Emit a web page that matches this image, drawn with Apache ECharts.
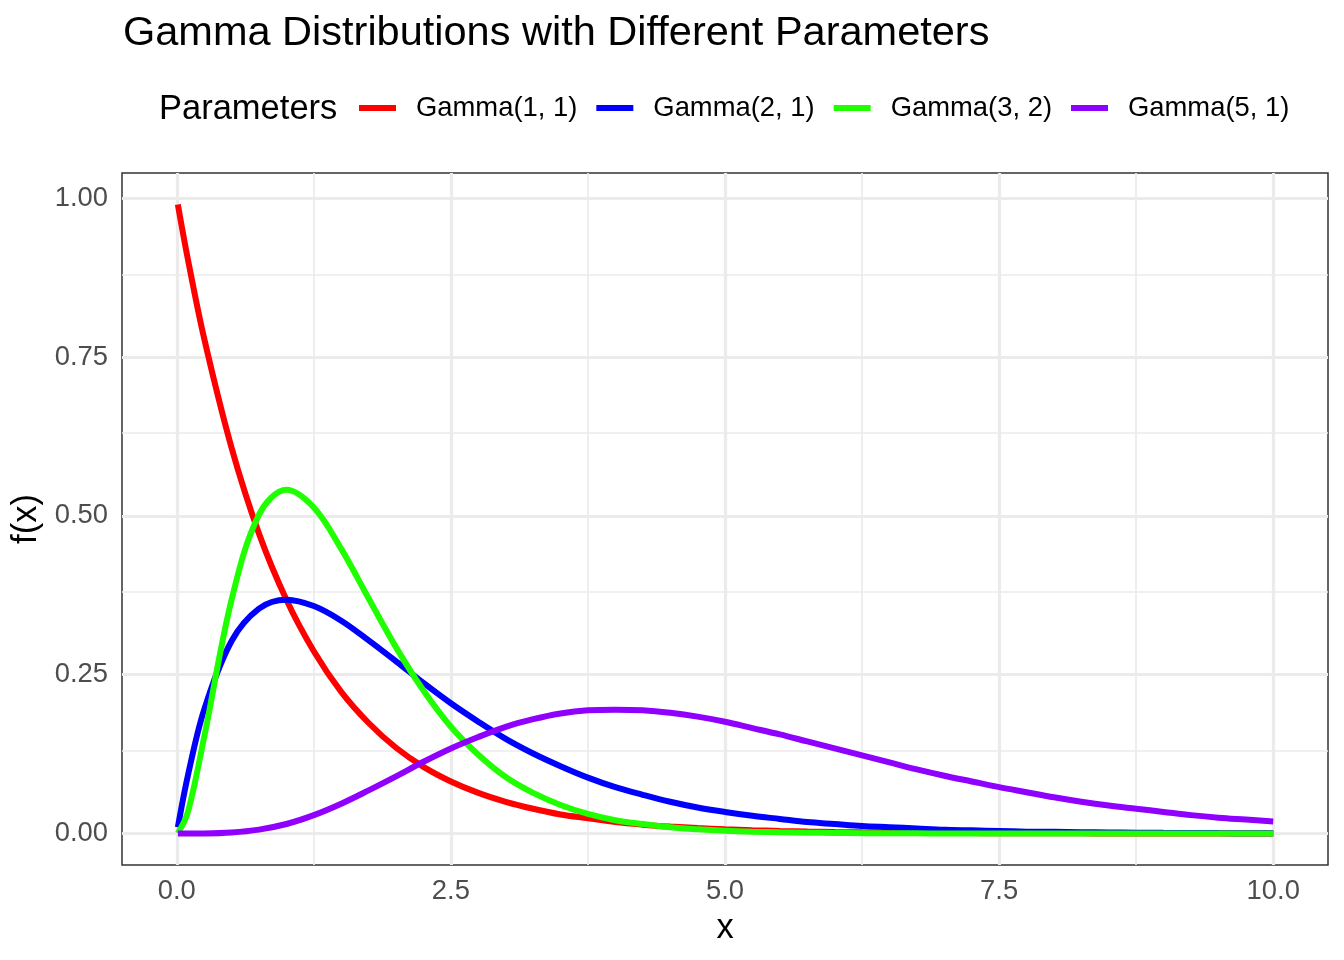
<!DOCTYPE html>
<html>
<head>
    <meta charset="utf-8">
    <title>Gamma Distributions</title>
    <script src="https://cdn.jsdelivr.net/npm/echarts@6.0.0/dist/echarts.min.js"></script>
    <style>
        body { margin: 0; background: #fff; }
    </style>
</head>
<body>
<div id="main" style="width: 1344px;height:960px;"></div>
<script type="text/javascript">
    // values
    var xs = [0.01, 0.1, 0.25, 0.5, 0.75, 1, 1.25, 1.5, 1.75, 2, 2.25, 2.5, 2.75, 3, 3.25, 3.5, 3.75, 4,
        4.25, 4.5, 4.75, 5, 5.25, 5.5, 5.75, 6, 6.25, 6.5, 6.75, 7, 7.25, 7.5, 7.75, 8,
        8.25, 8.5, 8.75, 9, 9.25, 9.5, 9.75, 10];

    var gamma11 = [0.990, 0.905, 0.779, 0.607, 0.472, 0.368, 0.287, 0.223, 0.174, 0.135, 0.105, 0.082, 0.064, 0.050, 0.039, 0.030, 0.024, 0.018,
        0.014, 0.011, 0.0087, 0.0067, 0.0052, 0.0041, 0.0032, 0.0025, 0.0019, 0.0015, 0.0012, 0.0009, 0.0007, 0.0006, 0.0004, 0.0003,
        0.0003, 0.0002, 0.0002, 0.0001, 0.0001, 0.0001, 0.0001, 0.0000];
    var gamma21 = [0.010, 0.090, 0.195, 0.303, 0.354, 0.368, 0.358, 0.335, 0.304, 0.271, 0.237, 0.205, 0.176, 0.149, 0.126, 0.106, 0.088, 0.073,
        0.061, 0.050, 0.041, 0.034, 0.028, 0.023, 0.018, 0.015, 0.012, 0.010, 0.008, 0.006, 0.005, 0.004, 0.003, 0.0027,
        0.0022, 0.0017, 0.0014, 0.0011, 0.0009, 0.0007, 0.0006, 0.0005];
    var gamma32 = [0.0004, 0.033, 0.152, 0.368, 0.502, 0.541, 0.513, 0.448, 0.370, 0.293, 0.225, 0.168, 0.124, 0.089, 0.064, 0.045, 0.031, 0.021,
        0.015, 0.010, 0.0068, 0.0045, 0.0030, 0.0020, 0.0013, 0.0009, 0.0006, 0.0004, 0.0003, 0.0002, 0.0001, 0.0001, 0.0000, 0.0000,
        0.0000, 0.0000, 0.0000, 0.0000, 0.0000, 0.0000, 0.0000, 0.0000];
    var gamma51 = [0.0000, 0.0000, 0.0001, 0.0016, 0.0062, 0.015, 0.029, 0.047, 0.068, 0.090, 0.113, 0.134, 0.152, 0.168, 0.180, 0.189, 0.194, 0.195,
        0.194, 0.190, 0.184, 0.176, 0.166, 0.156, 0.145, 0.134, 0.123, 0.112, 0.101, 0.091, 0.082, 0.073, 0.065, 0.057,
        0.050, 0.044, 0.039, 0.034, 0.029, 0.025, 0.022, 0.019];

    var seriesNames = ['Gamma(1, 1)', 'Gamma(2, 1)', 'Gamma(3, 2)', 'Gamma(5, 1)'];
    var seriesColors = ['#FF0000', '#0000FF', '#1FFF00', '#8F00FF'];

    var xMajor = [0, 2.5, 5, 7.5, 10];
    var xMinor = [1.25, 3.75, 6.25, 8.75];
    var yMajor = [0, 0.25, 0.5, 0.75, 1];
    var yMinor = [0.125, 0.375, 0.625, 0.875];

    var font = '"Liberation Sans", Arial, Helvetica, sans-serif';

    var myChart = echarts.init(document.getElementById('main'));

    // grid lines drawn as mark lines so they sit on the real breaks
    var gridLines = [];
    xMinor.forEach(function (v) {
        gridLines.push({ xAxis: v, lineStyle: { color: '#EBEBEB', width: 1.7, type: 'solid' } });
    });
    yMinor.forEach(function (v) {
        gridLines.push({ yAxis: v, lineStyle: { color: '#EBEBEB', width: 1.7, type: 'solid' } });
    });
    xMajor.forEach(function (v) {
        gridLines.push({ xAxis: v, lineStyle: { color: '#EBEBEB', width: 3.2, type: 'solid' } });
    });
    yMajor.forEach(function (v) {
        gridLines.push({ yAxis: v, lineStyle: { color: '#EBEBEB', width: 3.2, type: 'solid' } });
    });

    var allData = [gamma11, gamma21, gamma32, gamma51];
    var series = [{
        name: 'grid',
        type: 'line',
        data: [],
        z: 1,
        silent: true,
        markLine: {
            silent: true,
            z: 1,
            symbol: ['none', 'none'],
            label: { show: false },
            animation: false,
            data: gridLines
        }
    }];
    allData.forEach(function (arr, k) {
        series.push({
            name: seriesNames[k],
            type: 'line',
            z: 3 + k,
            showSymbol: false,
            smooth: 0.35,
            color: seriesColors[k],
            lineStyle: { width: 6, color: seriesColors[k], cap: 'butt' },
            data: xs.map(function (x, i) { return [x, arr[i]]; })
        });
    });

    var option = {
        animation: false,
        backgroundColor: '#FFFFFF',
        title: [{
            text: 'Gamma Distributions with Different Parameters',
            left: 118,
            top: 7,
            textStyle: { fontFamily: font, fontSize: 41.5, fontWeight: 'normal', color: '#000', lineHeight: 44 }
        }, {
            text: 'Parameters',
            left: 154,
            top: 86,
            textStyle: { fontFamily: font, fontSize: 34.5, fontWeight: 'normal', color: '#000', lineHeight: 36 }
        }],
        legend: {
            data: seriesNames,
            left: 354,
            top: 88,
            icon: 'rect',
            itemWidth: 37,
            itemHeight: 6,
            itemGap: 19,
            textStyle: { fontFamily: font, fontSize: 27.4, color: '#000', padding: [0, 0, 0, 15], lineHeight: 30 }
        },
        grid: {
            left: 122,
            right: 16,
            top: 173,
            bottom: 95,
            show: true,
            borderColor: '#333333',
            borderWidth: 1.5,
            backgroundColor: 'transparent'
        },
        xAxis: {
            type: 'value',
            min: -0.4995,
            max: 10.4995,
            name: 'x',
            nameLocation: 'middle',
            nameGap: 46,
            nameTextStyle: { fontFamily: font, fontSize: 34.5, color: '#000' },
            axisLine: { show: false },
            splitLine: { show: false },
            axisTick: { show: true, customValues: xMajor, length: 8, lineStyle: { color: '#333333', width: 1.6 } },
            axisLabel: {
                customValues: xMajor,
                margin: 13,
                fontFamily: font,
                fontSize: 27.4,
                color: '#4D4D4D',
                formatter: function (v) { return v.toFixed(1); }
            }
        },
        yAxis: {
            type: 'value',
            min: -0.0495,
            max: 1.0395,
            name: 'f(x)',
            nameLocation: 'middle',
            nameGap: 75,
            nameRotate: 90,
            nameTextStyle: { fontFamily: font, fontSize: 34.5, color: '#000' },
            axisLine: { show: false },
            splitLine: { show: false },
            axisTick: { show: true, customValues: yMajor, length: 8, lineStyle: { color: '#333333', width: 1.6 } },
            axisLabel: {
                customValues: yMajor,
                margin: 14,
                fontFamily: font,
                fontSize: 27.4,
                color: '#4D4D4D',
                formatter: function (v) { return v.toFixed(2); }
            }
        },
        series: series
    };

    myChart.setOption(option);
</script>
</body>
</html>
